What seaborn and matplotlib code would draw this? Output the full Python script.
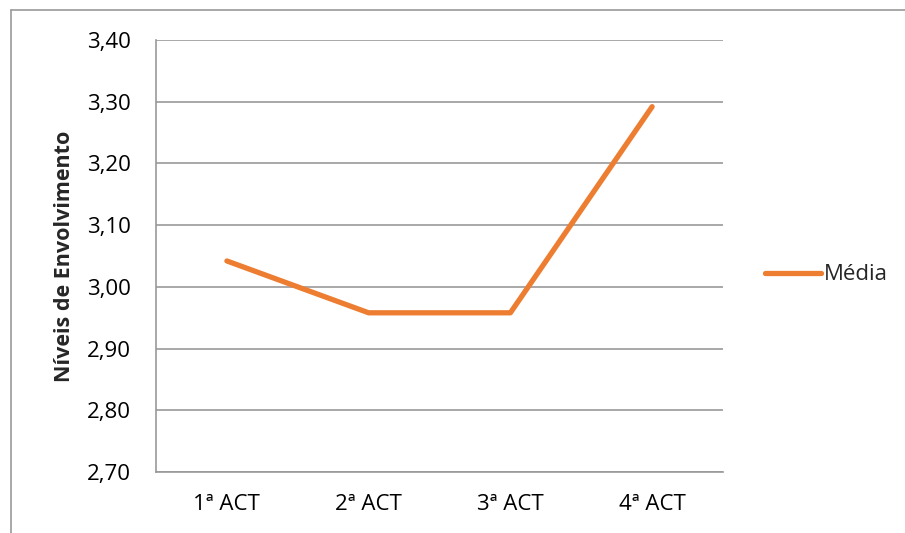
import pandas as pd
import seaborn as sns
import matplotlib.pyplot as plt
from matplotlib.lines import Line2D

# Data
activities = ["1ª ACT", "2ª ACT", "3ª ACT", "4ª ACT"]
media = [3.042, 2.958, 2.958, 3.292]
y_ticks = [2.70, 2.80, 2.90, 3.00, 3.10, 3.20, 3.30, 3.40]

df = pd.DataFrame({"act": activities, "valor": media, "serie": "Média"})

sns.set_style("white")
plt.rcParams["font.family"] = ["Open Sans", "DejaVu Sans"]

fig = plt.figure(figsize=(9.05, 5.33), dpi=100)
ax = fig.add_axes([0.1724, 0.1144, 0.6265, 0.8105])

sns.lineplot(data=df, x="act", y="valor", hue="serie", palette=["#ED7D31"],
             linewidth=3.8, solid_capstyle="round", sort=False, ax=ax)

ax.set_ylim(2.70, 3.40)
ax.set_xlim(-0.5, 3.5)
ax.set_yticks(y_ticks)
ax.set_yticklabels([f"{v:.2f}".replace(".", ",") for v in y_ticks])
ax.yaxis.grid(True, color="#999999", linewidth=1.2)
ax.set_axisbelow(True)
ax.tick_params(axis="both", length=0, labelsize=16, colors="black")
ax.tick_params(axis="y", pad=18)
ax.tick_params(axis="x", pad=16)
for s in ["top", "right"]:
    ax.spines[s].set_visible(False)
for s in ["left", "bottom"]:
    ax.spines[s].set_color("#999999")
    ax.spines[s].set_linewidth(1.2)

ax.set_xlabel("")
ax.set_ylabel("Níveis de Envolvimento", fontsize=15.5, fontweight="bold", labelpad=9)

leg = ax.legend(loc="center left", bbox_to_anchor=(765 / 905, 1 - 275 / 533),
                bbox_transform=fig.transFigure, frameon=False, fontsize=16,
                handlelength=2.5, handletextpad=0.15, borderpad=0, borderaxespad=0)

# chart frame (cropped on right and bottom)
fig.add_artist(Line2D([11 / 905, 1], [1 - 10 / 533, 1 - 10 / 533], color="#999999", linewidth=1.2))
fig.add_artist(Line2D([11 / 905, 11 / 905], [0, 1 - 10 / 533], color="#999999", linewidth=1.2))

fig.savefig("out.png", dpi=100)
